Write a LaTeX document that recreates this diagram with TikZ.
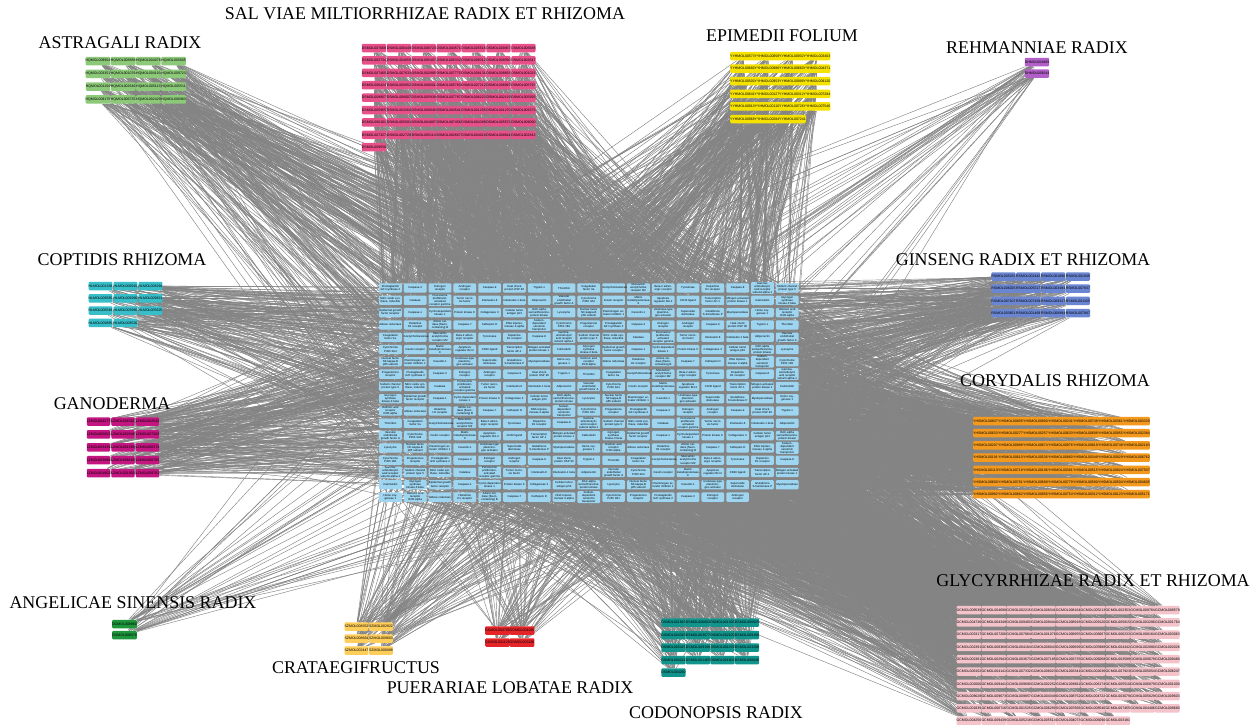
\documentclass[tikz,border=0pt]{standalone}
\usepackage{fontspec}
\setmainfont{Liberation Serif}
\newfontfamily\boxfont{Liberation Sans}
\usetikzlibrary{backgrounds}

\definecolor{astrgreen}{RGB}{140,201,120}
\definecolor{danpink}{RGB}{232,80,138}
\definecolor{epiyellow}{RGB}{245,226,0}
\definecolor{rehpurple}{RGB}{178,96,200}
\definecolor{copteal}{RGB}{56,190,200}
\definecolor{ganmagenta}{RGB}{196,22,128}
\definecolor{anggreen}{RGB}{30,150,60}
\definecolor{cratyellow}{RGB}{255,205,90}
\definecolor{puered}{RGB}{228,36,40}
\definecolor{codteal}{RGB}{16,148,140}
\definecolor{ginblue}{RGB}{106,134,210}
\definecolor{cororange}{RGB}{243,154,30}
\definecolor{glypink}{RGB}{244,196,202}
\definecolor{targetblue}{RGB}{158,214,242}
\definecolor{edgegray}{RGB}{132,132,132}

\tikzset{
  compound/.style={rounded corners=0.6pt, minimum width=0.46cm, minimum height=0.17cm,
    inner sep=0pt, font=\boxfont\fontsize{2}{2}\selectfont},
  target/.style={fill=targetblue, rounded corners=0.6pt, minimum width=0.454cm,
    minimum height=0.186cm, inner sep=0pt, text width=0.45cm, align=center,
    font=\boxfont\fontsize{1.6}{1.75}\selectfont},
  herblabel/.style={font=\fontsize{10.2}{12}\selectfont},
  edge/.style={edgegray, line width=0.25pt}
}

% grid of compound boxes: name, x, y, cols, count, colour, id prefix, x pitch, y pitch
\newcommand\herbgrid[9]{%
  \foreach \i in {1,...,#5}{
    \pgfmathtruncatemacro\hrow{(\i-1)/#4}
    \pgfmathtruncatemacro\hcol{mod(\i-1,#4)}
    \pgfmathtruncatemacro\hnum{random(1000,9999)}
    \node[compound, fill=#6] (#1-\i) at ({#2+#8*\hcol},{#3+#9*\hrow}) {#7MOL00\hnum};
  }}

% edges from every compound of one herb to the targets
\newcommand\herbedges[3]{%
  \foreach \i in {1,...,#2}{
    \foreach \k in {1,...,#3}{
      \pgfmathtruncatemacro\tgt{random(1,304)}
      \draw[edge] (#1-\i) -- (t-\tgt);
    }}}

\begin{document}
\begin{tikzpicture}[x=0.02cm, y=-0.02cm]
  \pgfmathsetseed{2024}
  \useasboundingbox (0,0) rectangle (1260,727);

  % targets
  \foreach \rep in {0,...,5}{
    \foreach \tname [count=\j] in {{Prostaglandin G/H synthase 2}, Caspase-3, {Estrogen receptor},
      {Androgen receptor}, Caspase-9, {Heat shock protein HSP 90}, Trypsin-1, Thrombin,
      {Coagulation factor Xa}, Acetylcholinesterase, {Muscarinic acetylcholine receptor M2},
      {Beta-2 adrenergic receptor}, Tyrosinase, {Dopamine D1 receptor}, Caspase-8,
      {Gamma-aminobutyric acid receptor subunit alpha-1}, {Sodium channel protein type 5},
      {Nitric oxide synthase, inducible}, Catalase, {Peroxisome proliferator-activated receptor gamma},
      {Tumor necrosis factor}, Interleukin-6, {Interleukin-1 beta}, Adiponectin,
      {Vascular endothelial growth factor A}, {Cytochrome P450 3A4}, {Insulin receptor},
      {Matrix metalloproteinase-9}, {Apoptosis regulator Bcl-2}, {CD40 ligand},
      {Transcription factor AP-1}, {Mitogen-activated protein kinase 1}, Calmodulin,
      {Glycogen synthase kinase-3 beta}, {Epidermal growth factor receptor}, Caspase-1,
      {Cyclin-dependent kinase 1}, {Protein kinase C}, {Collagenase 3}, {Cellular tumor antigen p53},
      {RAC-alpha serine/threonine-protein kinase}, Lysozyme, {Nuclear factor NF-kappa-B p65 subunit},
      {Plasminogen activator inhibitor 1}, Caveolin-1, {Urokinase-type plasminogen activator},
      {Superoxide dismutase}, {Glutathione S-transferase P}, Myeloperoxidase, {Heme oxygenase 1},
      {Retinoic acid receptor RXR-alpha}, {Aldose reductase}, {Histamine H1 receptor},
      {Amine oxidase [flavin-containing] B}, Caspase-7, {Cathepsin D}, {DNA topoisomerase 2-alpha},
      {Sodium-dependent serotonin transporter}, {Cytochrome P450 1B1}, {Progesterone receptor}}{
      \pgfmathtruncatemacro\tidx{\rep*60+\j}
      \ifnum\tidx<305
        \pgfmathtruncatemacro\trow{(\tidx-1)/17}
        \pgfmathtruncatemacro\tcol{mod(\tidx-1,17)}
        \node[target] (t-\tidx) at ({390.4+24.8*\tcol},{288+12.3*\trow}) {\tname};
      \fi
    }}

  % herbs
  \herbgrid{astr}{98}{61}{4}{16}{astrgreen}{HQ}{25.2}{12.8}
  \herbgrid{dan}{374}{48}{7}{57}{danpink}{DS}{24.9}{12.4}
  \herbgrid{epi}{743.5}{56}{4}{23}{epiyellow}{YYH}{24.5}{12.6}
  \herbgrid{reh}{1037}{62}{1}{2}{rehpurple}{DH}{24}{11.5}
  \herbgrid{cop}{100.5}{286}{3}{11}{copteal}{HL}{25}{12.3}
  \herbgrid{gan}{98.5}{421.5}{3}{15}{ganmagenta}{LZ}{24.5}{12.9}
  \herbgrid{ang}{124.5}{624}{1}{2}{anggreen}{DG}{24}{11}
  \herbgrid{cra}{356.5}{626.5}{2}{6}{cratyellow}{SZ}{24.5}{12}
  \herbgrid{pue}{497.5}{630.5}{2}{4}{puered}{GG}{24.5}{12}
  \herbgrid{cod}{673.5}{622.5}{4}{17}{codteal}{DS}{24.5}{12.5}
  \herbgrid{gin}{1003.5}{276.5}{4}{16}{ginblue}{RS}{24.8}{12.2}
  \herbgrid{cor}{986.5}{421}{7}{49}{cororange}{YHS}{25}{12.2}
  \herbgrid{gly}{969}{610}{9}{88}{glypink}{GC}{24.8}{12.3}

  \node[herblabel] (astr-label) at (120,43) {ASTRAGALI RADIX};
  \node[herblabel] (dan-label) at (425,14) {SAL VIAE MILTIORRHIZAE RADIX ET RHIZOMA};
  \node[herblabel] (epi-label) at (782,36) {EPIMEDII FOLIUM};
  \node[herblabel] (reh-label) at (1037,48) {REHMANNIAE RADIX};
  \node[herblabel] (cop-label) at (122,260) {COPTIDIS RHIZOMA};
  \node[herblabel] (gan-label) at (112,404) {GANODERMA};
  \node[herblabel] (ang-label) at (133,603) {ANGELICAE SINENSIS RADIX};
  \node[herblabel] (cra-label) at (356,668) {CRATAEGIFRUCTUS};
  \node[herblabel] (pue-label) at (510,688) {PUERARIAE LOBATAE RADIX};
  \node[herblabel] (cod-label) at (716,713) {CODONOPSIS RADIX};
  \node[herblabel] (gin-label) at (1023,260) {GINSENG RADIX ET RHIZOMA};
  \node[herblabel] (cor-label) at (1055,381) {CORYDALIS RHIZOMA};
  \node[herblabel] (gly-label) at (1093,581) {GLYCYRRHIZAE RADIX ET RHIZOMA};

  \begin{scope}[on background layer]
    \fill[white] (0,0) rectangle (1260,727);
    \herbedges{astr}{16}{20}
    \herbedges{dan}{57}{20}
    \herbedges{epi}{23}{20}
    \herbedges{reh}{2}{20}
    \herbedges{cop}{11}{20}
    \herbedges{gan}{15}{20}
    \herbedges{ang}{2}{20}
    \herbedges{cra}{6}{20}
    \herbedges{pue}{4}{20}
    \herbedges{cod}{17}{20}
    \herbedges{gin}{16}{20}
    \herbedges{cor}{49}{20}
    \herbedges{gly}{88}{20}
  \end{scope}
\end{tikzpicture}
\end{document}
